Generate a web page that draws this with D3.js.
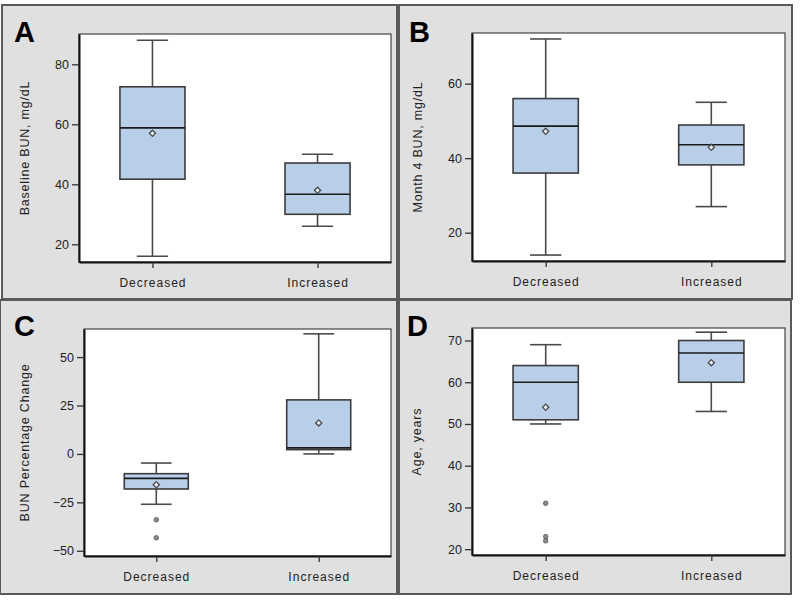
<!DOCTYPE html>
<html>
<head>
<meta charset="utf-8">
<script src="https://cdn.jsdelivr.net/npm/d3@7"></script>
<style>
  html, body { margin: 0; padding: 0; background: #ffffff; }
  svg { display: block; }
  text { font-family: "Liberation Sans", Arial, sans-serif; }
</style>
</head>
<body>
<svg id="chart" width="800" height="601"></svg>
<script>
// ---------- DATA ----------
const categories = ["Decreased", "Increased"];
const panelLetters = ["A", "B", "C", "D"];
const yLabels = ["Baseline BUN, mg/dL", "Month 4 BUN, mg/dL", "BUN Percentage Change", "Age, years"];
const yTicks = [[20, 40, 60, 80], [20, 40, 60], [-50, -25, 0, 25, 50], [20, 30, 40, 50, 60, 70]];
const yDomains = [[14.1, 90.1], [12.4, 73.6], [-52.7, 64.5], [18.6, 73]];

// per panel: [Decreased, Increased]
const whiskerLow  = [[16, 26],     [14, 27],     [-26, 0],     [50, 53]];
const q1Values    = [[41.7, 30],   [36, 38.2],   [-18.1, 2.2], [51, 60]];
const medians     = [[58.8, 36.7], [48.6, 43.6], [-12.6, 3.1], [60, 67]];
const q3Values    = [[72.5, 47.1], [56, 48.9],   [-10.2, 27.9],[64, 70]];
const whiskerHigh = [[88, 50],     [72, 55],     [-4.7, 62],   [69, 72]];
const means       = [[57, 38],     [47.2, 42.9], [-15.9, 16],  [54, 64.7]];
const outliers    = [[[], []], [[], []], [[-34, -43.3], []], [[31, 23, 22], []]];

// ---------- LAYOUT ----------
const panels = [
  { frame: [2, 5, 395, 294],   plot: [79, 34, 391, 262],   letter: [14, 42],  ylab: 25 },
  { frame: [399, 5, 393, 294], plot: [472, 33, 785, 261],  letter: [409, 42], ylab: 418 },
  { frame: [0, 300, 397, 294], plot: [84, 329, 391, 556],  letter: [14, 336], ylab: 25 },
  { frame: [399, 300, 392, 294], plot: [472, 328, 785, 555], letter: [407, 336], ylab: 417 }
];

const svg = d3.select("#chart");

panels.forEach((p, i) => {
  const [fx, fy, fw, fh] = p.frame;
  svg.append("rect")
    .attr("x", fx).attr("y", fy).attr("width", fw).attr("height", fh)
    .attr("fill", "#e0e0e0").attr("stroke", "#5a5a5a").attr("stroke-width", 2);
});

panels.forEach((p, i) => {
  const [x0, y0, x1, y1] = p.plot;
  const g = svg.append("g");

  const y = d3.scaleLinear().domain(yDomains[i]).range([y1, y0]);
  const x = d3.scalePoint().domain(categories).range([x0, x1]).padding(0.445);
  const step = x.step();
  const bw = step * 0.394;
  const cw = bw * 0.48;

  // plot area
  g.append("rect")
    .attr("x", x0).attr("y", y0).attr("width", x1 - x0).attr("height", y1 - y0)
    .attr("fill", "#ffffff").attr("stroke", "#444").attr("stroke-width", 1.2);

  // boxes
  categories.forEach((c, j) => {
    const cx = x(c);
    const lo = whiskerLow[i][j], hi = whiskerHigh[i][j];
    const q1 = q1Values[i][j], q3 = q3Values[i][j];
    const med = medians[i][j], mn = means[i][j];
    const wl = "#4a4a4a";
    // whiskers
    g.append("line").attr("x1", cx).attr("x2", cx).attr("y1", y(q3)).attr("y2", y(hi))
      .attr("stroke", wl).attr("stroke-width", 1.6);
    g.append("line").attr("x1", cx).attr("x2", cx).attr("y1", y(q1)).attr("y2", y(lo))
      .attr("stroke", wl).attr("stroke-width", 1.6);
    g.append("line").attr("x1", cx - cw / 2).attr("x2", cx + cw / 2).attr("y1", y(hi)).attr("y2", y(hi))
      .attr("stroke", wl).attr("stroke-width", 1.6);
    g.append("line").attr("x1", cx - cw / 2).attr("x2", cx + cw / 2).attr("y1", y(lo)).attr("y2", y(lo))
      .attr("stroke", wl).attr("stroke-width", 1.6);
    // box
    g.append("rect")
      .attr("x", cx - bw / 2).attr("y", y(q3)).attr("width", bw).attr("height", y(q1) - y(q3))
      .attr("fill", "#b9cfe9").attr("stroke", "#3c3c3c").attr("stroke-width", 1.6);
    // median
    g.append("line").attr("x1", cx - bw / 2).attr("x2", cx + bw / 2).attr("y1", y(med)).attr("y2", y(med))
      .attr("stroke", "#1a1a1a").attr("stroke-width", 1.6);
    // mean (small rotated square)
    g.append("path")
      .attr("d", d3.symbol().type(d3.symbolSquare).size(19)())
      .attr("transform", `translate(${cx},${y(mn)}) rotate(45)`)
      .attr("fill", "#e6eef7").attr("stroke", "#4a4a4a").attr("stroke-width", 1.3);
    // outliers
    outliers[i][j].forEach(v => {
      g.append("circle").attr("cx", cx).attr("cy", y(v)).attr("r", 2.3)
        .attr("fill", "#8a8a8a").attr("stroke", "#555").attr("stroke-width", 0.8);
    });
  });

  // y axis
  const ya = g.append("g").attr("transform", `translate(${x0},0)`)
    .call(d3.axisLeft(y).tickValues(yTicks[i]).tickSize(7).tickPadding(3).tickSizeOuter(0));
  ya.select(".domain").attr("stroke", "#111").attr("stroke-width", 2);
  ya.selectAll(".tick line").attr("stroke", "#333").attr("stroke-width", 1.3);
  ya.selectAll(".tick text").attr("fill", "#222").style("font-size", "12.5px")
    .style("font-family", '"Liberation Sans", Arial, sans-serif');

  // x axis
  const xa = g.append("g").attr("transform", `translate(0,${y1})`)
    .call(d3.axisBottom(x).tickSize(6).tickPadding(10).tickSizeOuter(0));
  xa.select(".domain").attr("stroke", "#111").attr("stroke-width", 2);
  xa.selectAll(".tick line").attr("stroke", "#333").attr("stroke-width", 1.3);
  xa.selectAll(".tick text").attr("fill", "#222").style("font-size", "12px")
    .style("letter-spacing", "1px")
    .style("font-family", '"Liberation Sans", Arial, sans-serif');

  // y label
  g.append("text")
    .attr("transform", `translate(${p.ylab},${(y0 + y1) / 2}) rotate(-90)`)
    .attr("text-anchor", "middle").attr("dy", "0.35em")
    .style("font-size", "12.5px").style("letter-spacing", "0.8px").attr("fill", "#222")
    .text(yLabels[i]);

  // panel letter
  svg.append("text")
    .attr("x", p.letter[0]).attr("y", p.letter[1])
    .style("font-size", "29px").style("font-weight", "bold").attr("fill", "#000")
    .text(panelLetters[i]);
});
</script>
</body>
</html>
